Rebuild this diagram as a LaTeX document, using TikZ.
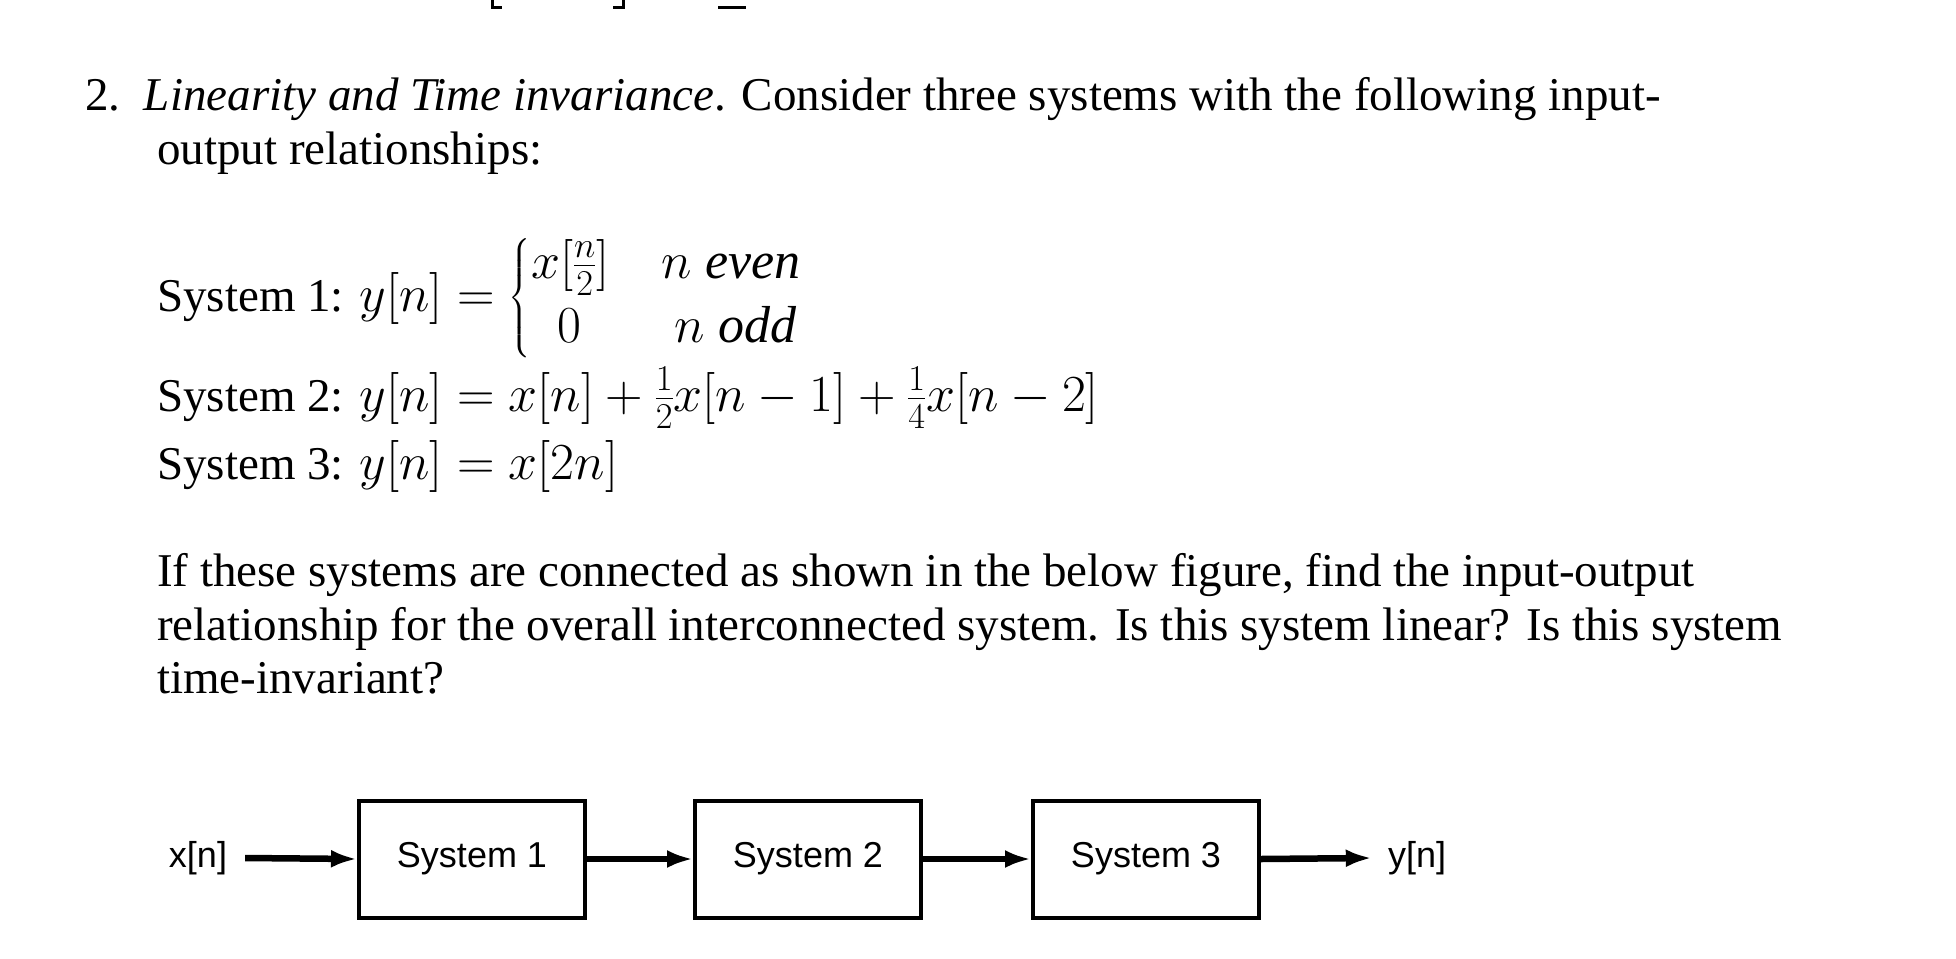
\RequirePackage{fix-cm}
\documentclass[tikz,border=0pt]{standalone}
\usepackage{amsmath}
\usepackage{fontspec}
\setmainfont{Liberation Serif}
\newfontfamily\diagsans{Liberation Sans}
\newcommand{\eqbig}[1]{{\fontsize{52}{60}\selectfont$#1$}}
\usetikzlibrary{arrows.meta}
\begin{document}
\begin{tikzpicture}[x=1pt,y=-1pt,
  txt/.style={anchor=base west,inner sep=0pt,font=\fontsize{47}{54}\selectfont},
  sys/.style={draw,line width=4pt,minimum width=226pt,minimum height=117pt,inner sep=0pt,font=\diagsans\fontsize{36}{40}\selectfont},
  lab/.style={inner sep=0pt,font=\diagsans\fontsize{36}{40}\selectfont},
  arr/.style={line width=6.5pt,-{Latex[length=26pt,width=18pt]}}]
\useasboundingbox (0,0) rectangle (1956,958);
% cut-off fragments at top
\draw[line width=3pt] (492,-2) -- (492,8) -- (502,8);
\draw[line width=3pt] (623,-2) -- (623,8) -- (613,8);
\draw[line width=3pt] (718,8) -- (746,8);
% text
\node[txt] (t1) at (85,110) {2.\hspace{0.5em}\textit{Linearity and Time invariance}. Consider three systems with the following input-};
\node[txt] (t2) at (157,164) {output relationships:};
\node[txt] (s1) at (157,311) {System 1: \eqbig{y[n]=\left\{\begin{array}{@{}l@{\quad}l}x[\frac{n}{2}] & n\ \mathit{even}\\[4pt] \ \ 0 & \ n\ \mathit{odd}\end{array}\right.}};
\node[txt] (s2) at (157,411) {System 2: \eqbig{y[n]=x[n]+\frac{1}{2}x[n-1]+\frac{1}{4}x[n-2]}};
\node[txt] (s3) at (157,479) {System 3: \eqbig{y[n]=x[2n]}};
\node[txt] (p1) at (157,586) {If these systems are connected as shown in the below figure, find the input-output};
\node[txt] (p2) at (157,640) {relationship for the overall interconnected system. Is this system linear? Is this system};
\node[txt] (p3) at (157,693) {time-invariant?};
% diagram
\node[lab] (x) at (198,858) {x[n]};
\node[sys] (b1) at (472,859) {System 1};
\node[sys] (b2) at (808,859) {System 2};
\node[sys] (b3) at (1146,859) {System 3};
\node[lab] (y) at (1417,858) {y[n]};
\draw[arr] (x.east) ++(18,0) -- (b1.west);
\draw[arr] (b1) -- (b2);
\draw[arr] (b2) -- (b3);
\draw[arr] (b3.east) -- ([xshift=-16pt]y.west);
\end{tikzpicture}
\end{document}
